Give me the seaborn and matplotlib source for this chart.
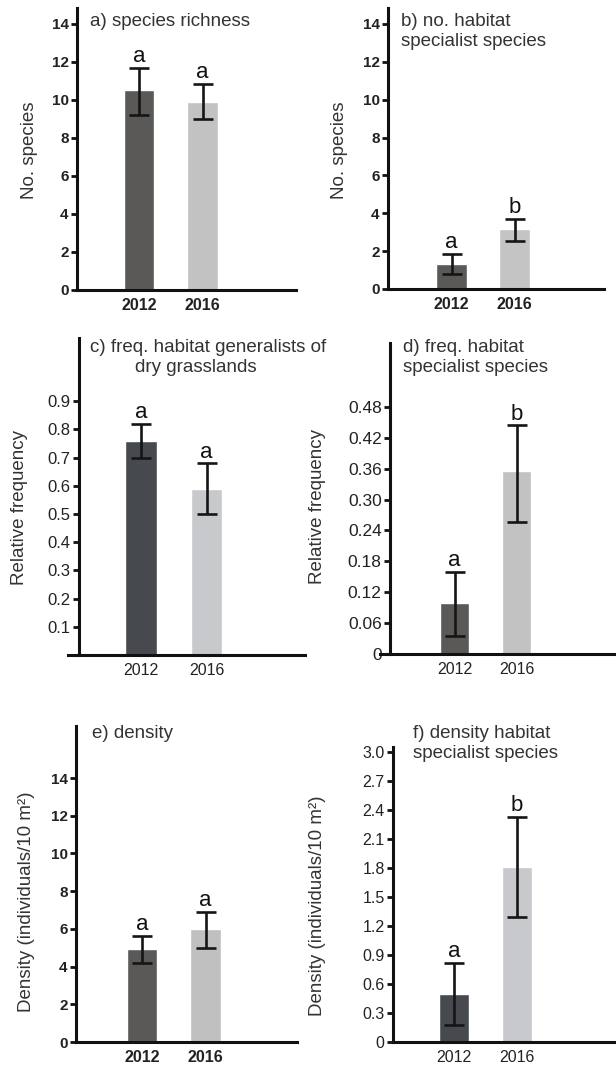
# %% libraries
import numpy as np
import pandas as pd
import seaborn as sns
import matplotlib.pyplot as plt

# %% data
years = ['2012', '2016']

rich_mean = [10.5, 9.9]
rich_low = [9.2, 9.0]
rich_high = [11.7, 10.85]
rich_letters = ['a', 'a']

spec_mean = [1.3, 3.15]
spec_low = [0.8, 2.55]
spec_high = [1.85, 3.7]
spec_letters = ['a', 'b']

gen_freq_mean = [0.76, 0.59]
gen_freq_low = [0.70, 0.50]
gen_freq_high = [0.82, 0.68]
gen_freq_letters = ['a', 'a']

spec_freq_mean = [0.10, 0.355]
spec_freq_low = [0.035, 0.257]
spec_freq_high = [0.16, 0.444]
spec_freq_letters = ['a', 'b']

dens_mean = [4.95, 6.0]
dens_low = [4.2, 4.98]
dens_high = [5.62, 6.9]
dens_letters = ['a', 'a']

spec_dens_mean = [0.50, 1.81]
spec_dens_low = [0.18, 1.29]
spec_dens_high = [0.82, 2.33]
spec_dens_letters = ['a', 'b']

# %% style
sns.set_theme(style="ticks")
plt.rcParams['font.family'] = ['Liberation Sans', 'DejaVu Sans']

W, H = 616, 1070
fig = plt.figure(figsize=(W / 100, H / 100), dpi=100)

DARK = '#5b5957'
DARK_BLUE = '#464a4f'
LIGHT = '#c2c2c2'
LIGHT_BLUE = '#c8c9cc'

# layout in pixels: left, spine, right, top, bottom(y=0), ymax, centers
panels = [
    dict(mean=rich_mean, low=rich_low, high=rich_high, let=rich_letters,
         px=(77, 77, 296, 8, 290), ymax=14.84, cx=(139, 202.5),
         ticks=np.arange(0, 15, 2), labels=None, tick_fs=11, tick_w='bold',
         cols=[DARK, LIGHT], ylabel='No. species', ylab_px=(29, 150),
         title=[('a) species richness', 90, 22)]),
    dict(mean=spec_mean, low=spec_low, high=spec_high, let=spec_letters,
         px=(388, 388, 604, 8, 289), ymax=14.84, cx=(451.5, 514.5),
         ticks=np.arange(0, 15, 2), labels=None, tick_fs=11, tick_w='bold',
         cols=[DARK, '#c4c4c4'], ylabel='No. species', ylab_px=(340, 150),
         title=[('b) no. habitat', 401, 22), ('specialist species', 401, 42)]),
    dict(mean=gen_freq_mean, low=gen_freq_low, high=gen_freq_high, let=gen_freq_letters,
         px=(68, 79, 305, 338, 655), ymax=1.124, cx=(141, 206.5),
         ticks=np.arange(1, 10) / 10, labels=None, tick_fs=12, tick_w='normal',
         cols=[DARK_BLUE, LIGHT_BLUE], ylabel='Relative frequency', ylab_px=(20, 508),
         title=[('c) freq. habitat generalists of', 90, 347), ('dry grasslands', 135, 367)]),
    dict(mean=spec_freq_mean, low=spec_freq_low, high=spec_freq_high, let=spec_freq_letters,
         px=(380, 390, 616, 343, 654), ymax=0.604, cx=(454.5, 516.5),
         ticks=np.arange(0, 9) * 0.06,
         labels=['0'] + [f'{v:.2f}' for v in np.arange(1, 9) * 0.06],
         tick_fs=12.5, tick_w='normal',
         cols=[DARK, LIGHT], ylabel='Relative frequency', ylab_px=(318, 507),
         title=[('d) freq. habitat', 403, 347), ('specialist species', 403, 367)]),
    dict(mean=dens_mean, low=dens_low, high=dens_high, let=dens_letters,
         px=(76, 76, 297, 726, 1042), ymax=16.76, cx=(142, 205.5),
         ticks=np.arange(0, 15, 2), labels=None, tick_fs=11, tick_w='bold',
         cols=[DARK, '#c0c0c0'], ylabel='Density (individuals/10 m²)', ylab_px=(27, 902),
         title=[('e) density', 92, 733)]),
    dict(mean=spec_dens_mean, low=spec_dens_low, high=spec_dens_high, let=spec_dens_letters,
         px=(393, 393, 616, 747, 1042), ymax=3.05, cx=(454, 516.5),
         ticks=np.arange(0, 11) * 0.3,
         labels=['0'] + [f'{v:.1f}' for v in np.arange(1, 11) * 0.3],
         tick_fs=11.5, tick_w='normal',
         cols=[DARK_BLUE, LIGHT_BLUE], ylabel='Density (individuals/10 m²)', ylab_px=(318, 906),
         title=[('f) density habitat', 413, 733), ('specialist species', 413, 753)]),
]

for p in panels:
    left, spine, right, top, bottom = p['px']
    ax = fig.add_axes([left / W, 1 - bottom / H, (right - left) / W, (bottom - top) / H])
    df = pd.DataFrame({'year': years, 'mean': p['mean']})
    sns.barplot(data=df, x='year', y='mean', hue='year', palette=p['cols'],
                width=0.48, saturation=1, legend=False, ax=ax)
    mean = np.array(p['mean'])
    yerr = [mean - np.array(p['low']), np.array(p['high']) - mean]
    ax.errorbar([0, 1], mean, yerr=yerr, fmt='none', ecolor='#151515',
                elinewidth=1.9, capsize=7, capthick=1.9, zorder=5)
    for i, (h, lt) in enumerate(zip(p['high'], p['let'])):
        ax.annotate(lt, (i, h), xytext=(0, 0.5), textcoords='offset points',
                    ha='center', va='bottom', fontsize=16, color='#111111')

    # x limits so bars sit where they do in the figure
    c0, c1 = p['cx']
    s = c1 - c0
    ax.set_xlim(-(c0 - left) / s, 1 + (right - c1) / s)
    ax.set_ylim(0, p['ymax'])
    ax.set_yticks(p['ticks'])
    if p['labels'] is not None:
        ax.set_yticklabels(p['labels'])
    ax.set_xlabel('')
    ax.set_ylabel('')

    sns.despine(ax=ax)
    ax.spines['left'].set_position(('axes', (spine - left) / (right - left)))
    for sp in ['left', 'bottom']:
        ax.spines[sp].set_linewidth(2.2)
        ax.spines[sp].set_color('#111111')
    ax.tick_params(axis='y', length=4, width=2, color='#111111', pad=2,
                   labelsize=p['tick_fs'], labelcolor='#222222')
    ax.tick_params(axis='x', length=0, pad=6, labelsize=11.5, labelcolor='#222222')
    for lab in ax.get_yticklabels() + ax.get_xticklabels():
        lab.set_fontweight(p['tick_w'])

    for txt, tx, ty in p['title']:
        fig.text(tx / W, 1 - ty / H, txt, ha='left', va='center',
                 fontsize=13.5, color='#333333')
    lx, ly = p['ylab_px']
    fig.text(lx / W, 1 - ly / H, p['ylabel'], rotation=90, ha='center', va='center',
             fontsize=13.5, color='#333333')

fig.savefig('out.png', dpi=100, facecolor='white')
